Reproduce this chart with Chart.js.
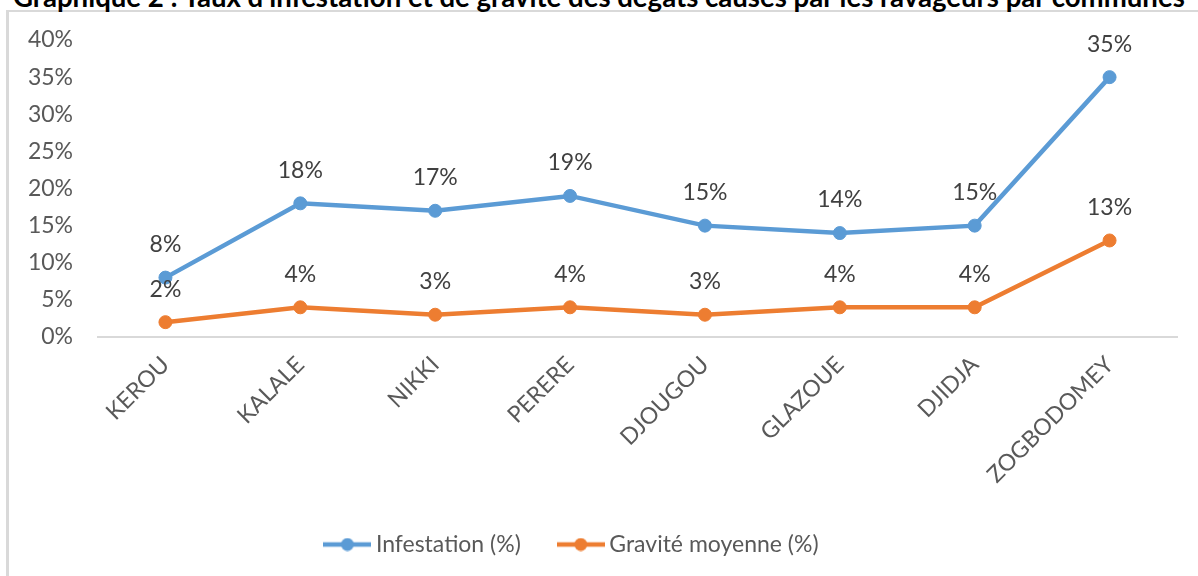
<!DOCTYPE html>
<html>
<head>
<meta charset="utf-8">
<script src="https://cdn.jsdelivr.net/npm/chart.js@4"></script>
<style>
html,body{margin:0;padding:0;background:#fff;overflow:hidden;}
#wrap{position:relative;width:1198px;height:576px;overflow:hidden;}
#frame{position:absolute;left:6px;top:10px;width:1300px;height:700px;border-left:3px solid #d9d9d9;border-top:2px solid #d9d9d9;}
#title{position:absolute;left:13px;top:0;white-space:nowrap;font-family:Lato,sans-serif;font-weight:bold;color:#000;line-height:1;}
#c{position:absolute;left:0;top:0;}
</style>
</head>
<body>
<div id="wrap">
  <div id="frame"></div>
  <div id="title"><span id="tt">Graphique 2 : Taux d’infestation et de gravité des dégâts causés par les ravageurs par communes</span><span id="bl" style="display:inline-block;width:0;height:0"></span></div>
  <canvas id="c" width="1198" height="576"></canvas>
</div>
<script>
// ---- data ----
const categories = ['KEROU', 'KALALE', 'NIKKI', 'PERERE', 'DJOUGOU', 'GLAZOUE', 'DJIDJA', 'ZOGBODOMEY'];
const infestation = [8, 18, 17, 19, 15, 14, 15, 35];
const gravite = [2, 4, 3, 4, 3, 4, 4, 13];
const seriesNames = ['Infestation (%)', 'Gravité moyenne (%)'];
const seriesColors = ['#5B9BD5', '#ED7D31'];
const yMin = 0, yMax = 40, yStep = 5;

// ---- title fit ----
function fitTitle() {
  const t = document.getElementById('title');
  const tt = document.getElementById('tt');
  const bl = document.getElementById('bl');
  let size = 22;
  t.style.fontSize = size + 'px';
  const w = tt.getBoundingClientRect().width;
  size = size * 1172 / w;
  t.style.fontSize = size + 'px';
  const base = bl.offsetTop;
  t.style.top = (7 - base) + 'px';
}
fitTitle();

// ---- legend icons (line + marker) ----
function makeIcon(color) {
  const cv = document.createElement('canvas');
  cv.width = 48; cv.height = 14;
  const x = cv.getContext('2d');
  x.strokeStyle = color; x.lineWidth = 4.5;
  x.beginPath(); x.moveTo(0, 7); x.lineTo(48, 7); x.stroke();
  x.fillStyle = color;
  x.beginPath(); x.arc(24, 7, 6.5, 0, Math.PI * 2); x.fill();
  return cv;
}
const legendIcons = seriesColors.map(makeIcon);

const dataLabelPlugin = {
  id: 'dataLabels',
  afterDatasetsDraw(chart) {
    const ctx = chart.ctx;
    ctx.save();
    ctx.font = '23px Lato';
    ctx.fillStyle = '#404040';
    ctx.textAlign = 'center';
    ctx.textBaseline = 'middle';
    chart.data.datasets.forEach((ds, i) => {
      const meta = chart.getDatasetMeta(i);
      meta.data.forEach((pt, j) => {
        ctx.fillText(ds.data[j] + '%', pt.x, pt.y - 33);
      });
    });
    ctx.restore();
  }
};

const legendShift = {
  id: 'legendShift',
  afterLayout(chart) {
    const lg = chart.legend;
    if (lg) { lg.left -= 14; lg.right -= 14; }
  }
};

const font = { family: 'Lato', size: 23 };

new Chart(document.getElementById('c'), {
  type: 'line',
  data: {
    labels: categories,
    datasets: [
      { label: seriesNames[0], data: infestation, borderColor: seriesColors[0], backgroundColor: seriesColors[0],
        borderWidth: 4.5, pointRadius: 6.5, pointBorderWidth: 1, pointBorderColor: seriesColors[0], pointBackgroundColor: seriesColors[0], tension: 0 },
      { label: seriesNames[1], data: gravite, borderColor: seriesColors[1], backgroundColor: seriesColors[1],
        borderWidth: 4.5, pointRadius: 6.5, pointBorderWidth: 1, pointBorderColor: seriesColors[1], pointBackgroundColor: seriesColors[1], tension: 0 }
    ]
  },
  options: {
    responsive: false,
    animation: false,
    layout: { padding: { left: 0, right: 21, top: 40, bottom: 10 } },
    scales: {
      x: {
        type: 'category',
        offset: true,
        grid: { display: false, drawTicks: false },
        border: { display: true, color: '#d9d9d9', width: 2 },
        ticks: { font: font, color: '#595959', minRotation: 45, maxRotation: 45, autoSkip: false, padding: 14 },
        afterFit(s) { s.height = 153; }
      },
      y: {
        min: yMin, max: yMax,
        grid: { display: false, drawTicks: false },
        border: { display: false },
        ticks: { stepSize: yStep, font: font, color: '#595959', padding: 25, callback: v => v + '%' },
        afterFit(s) { s.width = 98; }
      }
    },
    plugins: {
      legend: {
        position: 'bottom',
        labels: {
          usePointStyle: true,
          pointStyleWidth: 34,
          padding: 43,
          font: font,
          color: '#595959',
          generateLabels(chart) {
            const items = Chart.defaults.plugins.legend.labels.generateLabels(chart);
            items.forEach((it, i) => { it.pointStyle = legendIcons[i]; });
            return items;
          }
        }
      },
      tooltip: { enabled: false },
      title: { display: false }
    }
  },
  plugins: [dataLabelPlugin, legendShift]
});
if (document.fonts && document.fonts.ready) document.fonts.ready.then(fitTitle);
</script>
</body>
</html>
